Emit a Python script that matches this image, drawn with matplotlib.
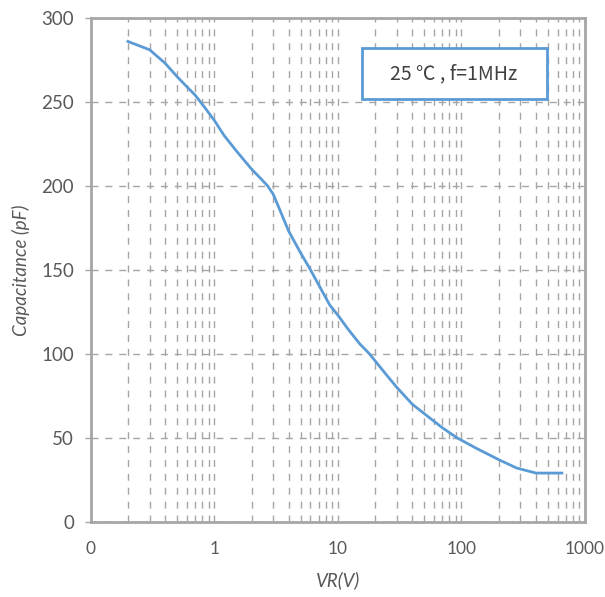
import matplotlib
matplotlib.use("Agg")
import matplotlib.pyplot as plt
from matplotlib.patches import Rectangle
from matplotlib.ticker import FixedLocator, LogLocator, NullFormatter

plt.rcParams["lines.scale_dashes"] = False
plt.rcParams["font.family"] = ["Lato", "Noto Sans CJK SC", "DejaVu Sans"]

# values
vr = [0.2, 0.3, 0.4, 0.5, 0.6, 0.7, 0.85, 1, 1.2, 1.5, 2, 2.4, 2.7, 3, 4, 5, 6, 7,
      8.6, 10, 12, 15, 18, 25, 30, 40, 55, 70, 92, 130, 200, 280, 400, 650]
cap = [286, 281, 273, 265, 259, 254, 246, 239, 230, 221, 210, 204, 200, 195, 173, 160, 150, 141,
       129, 123, 115, 106, 100, 87, 80, 70, 62, 56, 50, 44, 37, 32, 29, 29]

x_ticks = [0.1, 1, 10, 100, 1000]
x_labels = ["0", "1", "10", "100", "1000"]
y_ticks = [0, 50, 100, 150, 200, 250, 300]

TXT = "#595959"
GRID = "#a5a5a5"

fig = plt.figure(figsize=(6.05, 5.97), dpi=100)
ax = fig.add_axes([0.150, 0.126, 0.817, 0.844])

ax.plot(vr, cap, color="#5b9bd5", linewidth=2.0, zorder=3)

ax.set_xscale("log")
ax.set_xlim(0.1, 1000)
ax.set_ylim(0, 300)

ax.xaxis.set_major_locator(FixedLocator(x_ticks))
ax.set_xticklabels(x_labels)
ax.xaxis.set_minor_locator(LogLocator(base=10, subs=range(2, 10)))
ax.xaxis.set_minor_formatter(NullFormatter())
ax.set_yticks(y_ticks)

dash = (0, (5, 5))
ax.grid(True, which="both", axis="x", color=GRID, linewidth=1.0, linestyle=dash)
ax.grid(True, which="major", axis="y", color=GRID, linewidth=1.0, linestyle=dash)
ax.set_axisbelow(True)

for s in ax.spines.values():
    s.set_color("#a6a6a6")
    s.set_linewidth(2.0)

ax.tick_params(axis="x", which="both", length=0, pad=14, labelsize=12.5, labelcolor=TXT)
ax.tick_params(axis="y", which="major", length=4, width=1, color="#a6a6a6",
               pad=8, labelsize=13.5, labelcolor=TXT)

ax.set_xlabel("VR(V)", fontsize=13.5, color=TXT, style="italic", labelpad=10)
ax.set_ylabel("Capacitance (pF)", fontsize=13.5, color=TXT, style="italic", labelpad=8)

# annotation box
ax.add_patch(Rectangle((0.549, 0.839), 0.374, 0.101, transform=ax.transAxes,
                       facecolor="white", edgecolor="#5b9bd5", linewidth=2.0, zorder=4))
ax.text(0.735, 0.889, "25 ℃ , f=1MHz", transform=ax.transAxes, ha="center", va="center",
        fontsize=14, color="#404040", zorder=5,
        family=["Noto Sans CJK SC", "DejaVu Sans"])

fig.savefig("out.png", dpi=100)
